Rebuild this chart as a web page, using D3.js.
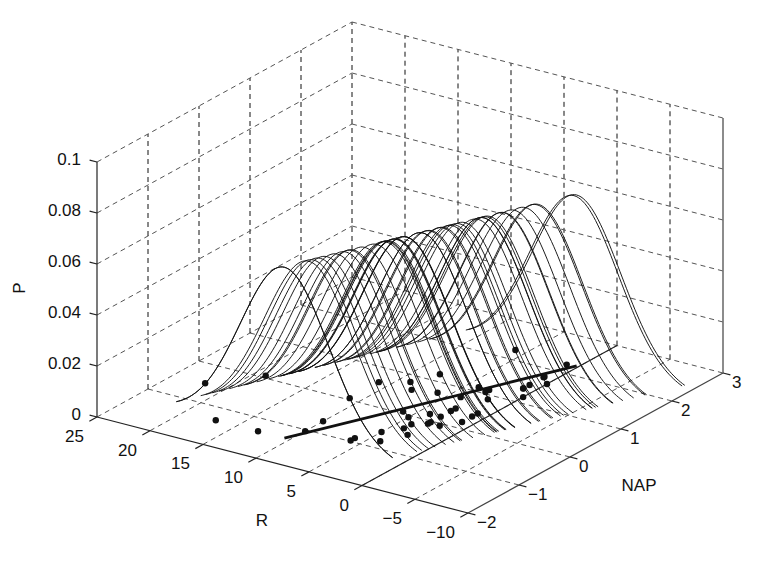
<!DOCTYPE html>
<html>
<head>
<meta charset="utf-8">
<script src="https://cdn.jsdelivr.net/npm/d3@7"></script>
<style>
body { margin: 0; background: #fff; }
text { font-family: "Liberation Sans", Arial, sans-serif; font-size: 17px; fill: #111; }
</style>
</head>
<body>
<script>
var napObs = [0.045, -1.036, -1.336, 0.616, -0.684, 1.190, 0.820, 0.635, 0.061, -1.334,
    -0.976, 1.494, -0.201, -0.482, 0.167, 1.768, -0.030, 0.460, 1.367, -0.811,
    1.117, -0.503, 0.729, 1.627, 0.054, -0.578, -0.348, 2.222, -0.893, 0.766,
    0.883, 1.786, 1.375, -0.060, 0.367, 0.164, 1.044, -0.083, 1.160, 2.255,
    -0.049, 1.120, 0.478, 0.367, 0.170];
var richObs = [11, 10, 13, 11, 10, 8, 9, 8, 19, 17,
    6, 1, 4, 3, 3, 1, 3, 3, 1, 4,
    3, 22, 6, 0, 6, 5, 4, 1, 6, 4,
    2, 1, 1, 2, 1, 4, 3, 3, 0, 6,
    5, 4, 1, 3, 1];

// fitted line R = a + b*NAP and the curve spread / peak height
var fitIntercept = 6.686,
    fitSlope = -2.867,
    fitSigma = 4.16,
    peakP = 0.067,
    curveHalfRange = 10.2;

// tick values
var rTicks = [25, 20, 15, 10, 5, 0, -5, -10];
var napTicks = [-2, -1, 0, 1, 2, 3];
var pTicks = [0, 0.02, 0.04, 0.06, 0.08, 0.1];
var pTickLabels = ["0", "0.02", "0.04", "0.06", "0.08", "0.1"];

function main() {

    var [width, height, svg, proj] = prepVars();

    drawGrid(svg, proj);
    drawModel(svg, proj);
    drawAxes(svg, proj);
};

function prepVars() {
    var width = 760,
        height = 561;

    var svg = d3.select("body")
        .append("svg")
        .attr("width", width)
        .attr("height", height);

    // screen offsets of each data axis (orthographic view)
    var xR = d3.scaleLinear().domain([25, -10]).range([0, 371]),
        yR = d3.scaleLinear().domain([25, -10]).range([0, 96]),
        xN = d3.scaleLinear().domain([-2, 3]).range([0, 255]),
        yN = d3.scaleLinear().domain([-2, 3]).range([0, -140]),
        yP = d3.scaleLinear().domain([0, 0.1]).range([0, -255]);

    var proj = function (r, n, p) {
        return [97 + xR(r) + xN(n), 417 + yR(r) + yN(n) + yP(p)];
    };

    return [width, height, svg, proj];
};

function seg(svg, proj, a, b, cls) {
    var p1 = proj(a[0], a[1], a[2]),
        p2 = proj(b[0], b[1], b[2]);
    return svg.append("line")
        .attr("class", cls)
        .attr("x1", p1[0]).attr("y1", p1[1])
        .attr("x2", p2[0]).attr("y2", p2[1]);
};

function drawGrid(svg, proj) {
    var g = svg.append("g")
        .attr("fill", "none")
        .attr("stroke", "#111")
        .attr("stroke-width", 1)
        .attr("stroke-dasharray", "5,4");

    var light = "#555";

    // floor
    rTicks.forEach(function (r) {
        if (r != -10) seg(g, proj, [r, -2, 0], [r, 3, 0]).attr("stroke", light);
    });
    napTicks.forEach(function (n) {
        if (n != -2) seg(g, proj, [25, n, 0], [-10, n, 0]).attr("stroke", light);
    });

    // back wall at R = 25
    napTicks.forEach(function (n) {
        if (n != -2) seg(g, proj, [25, n, 0], [25, n, 0.1]);
    });
    pTicks.forEach(function (p) {
        if (p != 0) seg(g, proj, [25, -2, p], [25, 3, p]).attr("stroke", light);
    });

    // back wall at NAP = 3
    rTicks.forEach(function (r) {
        if (r != -10 && r != 25) seg(g, proj, [r, 3, 0], [r, 3, 0.1]);
    });
    pTicks.forEach(function (p) {
        if (p != 0) seg(g, proj, [25, 3, p], [-10, 3, p]).attr("stroke", light);
    });
};

function drawModel(svg, proj) {
    var g = svg.append("g");

    var line = d3.line()
        .x(function (d) { return d[0]; })
        .y(function (d) { return d[1]; });

    // one gaussian curve along R for every observation
    napObs.forEach(function (n) {
        var mu = fitIntercept + fitSlope * n;
        var lo = Math.max(-10, mu - curveHalfRange),
            hi = Math.min(25, mu + curveHalfRange);
        var pts = d3.range(0, 101).map(function (i) {
            var r = lo + (hi - lo) * i / 100;
            var p = peakP * Math.exp(-0.5 * Math.pow((r - mu) / fitSigma, 2));
            return proj(r, n, p);
        });
        g.append("path")
            .attr("d", line(pts))
            .attr("fill", "none")
            .attr("stroke", "#111")
            .attr("stroke-width", 0.95);
    });

    // line R = 0 on the floor
    seg(g, proj, [0, -2, 0], [0, 3, 0])
        .attr("stroke", "#222")
        .attr("stroke-width", 1.2);

    // fitted line on the floor
    var nMin = d3.min(napObs),
        nMax = d3.max(napObs);
    seg(g, proj, [fitIntercept + fitSlope * nMin, nMin, 0], [fitIntercept + fitSlope * nMax, nMax, 0])
        .attr("stroke", "#111")
        .attr("stroke-width", 2.8);

    // observations
    g.selectAll("circle")
        .data(napObs)
        .enter()
        .append("circle")
        .attr("cx", function (d, i) { return proj(richObs[i], d, 0)[0]; })
        .attr("cy", function (d, i) { return proj(richObs[i], d, 0)[1]; })
        .attr("r", 3.2)
        .attr("fill", "#111");
};

function fmt(v) {
    return v < 0 ? "\u2212" + Math.abs(v) : String(v);
};

function drawAxes(svg, proj) {
    var g = svg.append("g")
        .attr("stroke", "#222")
        .attr("stroke-width", 1.2);

    seg(g, proj, [25, -2, 0], [25, -2, 0.1]);
    seg(g, proj, [25, -2, 0], [-10, -2, 0]);
    seg(g, proj, [-10, -2, 0], [-10, 3, 0]).attr("stroke", "#444");
    seg(g, proj, [-10, 3, 0], [-10, 3, 0.1]).attr("stroke", "#666").attr("stroke-width", 1.5);

    // P ticks and labels
    pTicks.forEach(function (p, i) {
        seg(g, proj, [25, -2, p], [25.7, -2, p]);
        var pt = proj(25, -2, p);
        svg.append("text")
            .attr("x", pt[0] - 16)
            .attr("y", pt[1] + 3)
            .attr("text-anchor", "end")
            .text(pTickLabels[i]);
    });

    // R ticks and labels
    rTicks.forEach(function (r) {
        seg(g, proj, [r, -2, 0], [r, -2.15, 0]);
        var pt = proj(r, -2, 0);
        svg.append("text")
            .attr("x", pt[0] - 13)
            .attr("y", pt[1] + 25)
            .attr("text-anchor", "end")
            .text(fmt(r));
    });

    // NAP ticks and labels
    napTicks.forEach(function (n) {
        seg(g, proj, [-10, n, 0], [-10.7, n, 0]);
        var pt = proj(-10, n, 0);
        svg.append("text")
            .attr("x", pt[0] + 9)
            .attr("y", pt[1] + 15)
            .attr("text-anchor", "start")
            .text(fmt(n));
    });

    // axis titles
    svg.append("text")
        .attr("transform", "translate(25,288) rotate(-90)")
        .attr("text-anchor", "middle")
        .text("P");
    svg.append("text")
        .attr("x", 262).attr("y", 526)
        .attr("text-anchor", "middle")
        .text("R");
    svg.append("text")
        .attr("x", 639).attr("y", 491)
        .attr("text-anchor", "middle")
        .text("NAP");
};

window.onload = main();
</script>
</body>
</html>
